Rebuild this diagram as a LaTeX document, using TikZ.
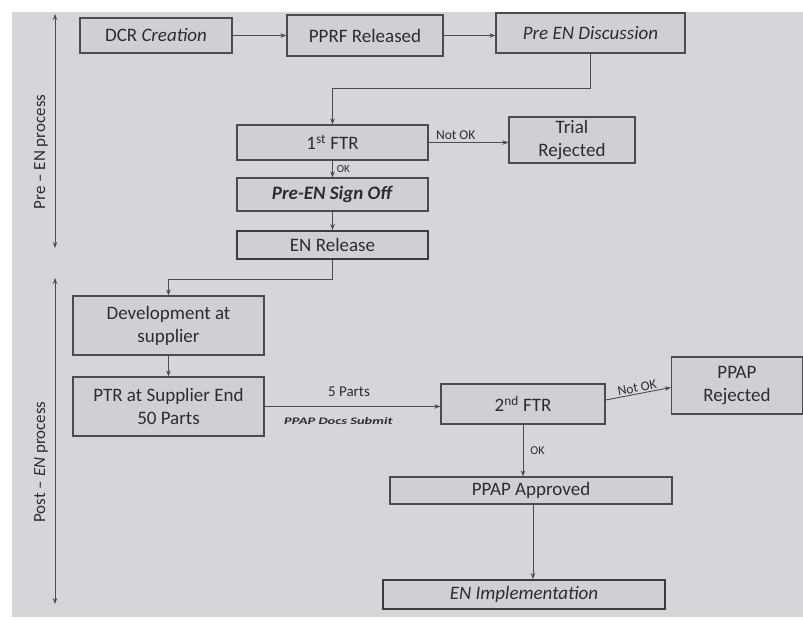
\documentclass[tikz,border=0pt]{standalone}
\usepackage{fontspec}
\setmainfont{Carlito}
\usetikzlibrary{arrows.meta,calc}
\definecolor{bg}{RGB}{214,214,218}
\definecolor{bx}{RGB}{208,208,212}
\definecolor{ln}{RGB}{75,75,80}
\definecolor{tx}{RGB}{45,45,48}
\tikzset{
  box/.style={draw=ln, fill=bx, line width=1.2pt, inner sep=1pt, align=center, text=tx, font=\fontsize{19}{23}\selectfont},
  thickbox/.style={box, line width=1.9pt, draw=ln!80!black},
  arr/.style={draw=ln, line width=0.9pt, -{Stealth[length=6pt,width=4.5pt]}},
  lbl/.style={text=tx, font=\fontsize{13.5}{15}\selectfont, inner sep=1pt},
  side/.style={draw=ln, line width=0.9pt, {Stealth[length=6pt,width=4.5pt]}-{Stealth[length=6pt,width=4.5pt]}}
}
\begin{document}
\begin{tikzpicture}[x=1pt,y=-1pt]
\useasboundingbox (0,0) rectangle (803,625);
\fill[white] (0,0) rectangle (803,625);
\fill[bg] (12,12) rectangle (803,617);

% side arrows
\coordinate (pa1) at (55,14);
\coordinate (pa2) at (55,248);
\coordinate (pb1) at (55,278);
\coordinate (pb2) at (55,604);
\draw[side] (pa1) -- (pa2);
\draw[side] (pb1) -- (pb2);
\node[rotate=90, text=tx, font=\fontsize{17}{19}\selectfont] (prelab) at (41,152) {Pre -- EN process};
\node[rotate=90, text=tx, font=\fontsize{17}{19}\selectfont] (postlab) at (41,462) {Post -- \textit{EN} process};

% boxes
\node[box, minimum width=152pt, minimum height=35pt] (dcr) at (156,35.5) {DCR \textit{Creation}};
\node[box, minimum width=156pt, minimum height=41pt] (pprf) at (365,35.5) {PPRF Released};
\node[box, minimum width=189pt, minimum height=40pt] (pre) at (590.5,33) {\textit{Pre EN Discussion}};
\node[box, minimum width=191pt, minimum height=35pt] (ftr1) at (332.5,142.5) {1\textsuperscript{st} FTR};
\node[box, minimum width=126pt, minimum height=46pt] (trial) at (572,140) {Trial\\Rejected};
\node[box, minimum width=191pt, minimum height=33pt] (sign) at (332.5,194.5) {\textbf{\textit{Pre-EN Sign Off}}};
\node[thickbox, minimum width=191pt, minimum height=28pt] (enrel) at (332.5,245) {EN Release};
\node[box, minimum width=191pt, minimum height=59pt] (dev) at (168.5,325.5) {Development at\\supplier};
\node[box, minimum width=191pt, minimum height=59pt] (ptr) at (168.5,406.5) {PTR at Supplier End\\50 Parts};
\node[box, minimum width=164pt, minimum height=40pt] (ftr2) at (523,404) {2\textsuperscript{nd} FTR};
\node[box, minimum width=131pt, minimum height=57pt] (pprej) at (737,385.5) {PPAP\\Rejected};
\node[box, minimum width=282pt, minimum height=27pt] (ppapp) at (531,490.5) {PPAP Approved};
\node[thickbox, minimum width=282pt, minimum height=29pt] (enimp) at (524,594.5) {\textit{EN Implementation}};

% connectors
\draw[arr] (dcr.east) -- (dcr.east -| pprf.west);
\draw[arr] (pprf.east) -- (pprf.east -| pre.west);
\draw[arr] (pre.south) -- ++(0,35) -| (ftr1.north);
\draw[arr] (ftr1.east) -- (ftr1.east -| trial.west) node[lbl, pos=0.34, above=1pt] {Not OK};
\draw[arr] (ftr1.south) -- (sign.north) node[lbl, font=\fontsize{11}{12}\selectfont, midway, right=3pt] {OK};
\draw[arr] (sign.south) -- (enrel.north);
\draw[arr] (enrel.south) -- ++(0,19) -| (dev.north);
\draw[arr] (dev.south) -- (ptr.north);
\draw[arr] (ptr.east) -- (ptr.east -| ftr2.west)
  node[text=tx, font=\fontsize{15}{17}\selectfont, pos=0.48, above=6pt] {5 Parts}
  node[text=tx, font=\fontsize{10}{11}\selectfont\bfseries\itshape, xscale=1.45, pos=0.42, below=7pt] {PPAP Docs Submit};
\draw[arr] ($(ftr2.east)+(0,-4)$) -- ($(pprej.west)+(0,2)$) node[lbl, midway, above, sloped] {Not OK};
\draw[arr] (ftr2.south) -- (ftr2.south |- ppapp.north) node[lbl, font=\fontsize{12}{13}\selectfont, midway, right=6pt] {OK};
\draw[arr] ($(ppapp.south)+(2,0)$) -- ($(ppapp.south |- enimp.north)+(2,0)$);
\end{tikzpicture}
\end{document}
